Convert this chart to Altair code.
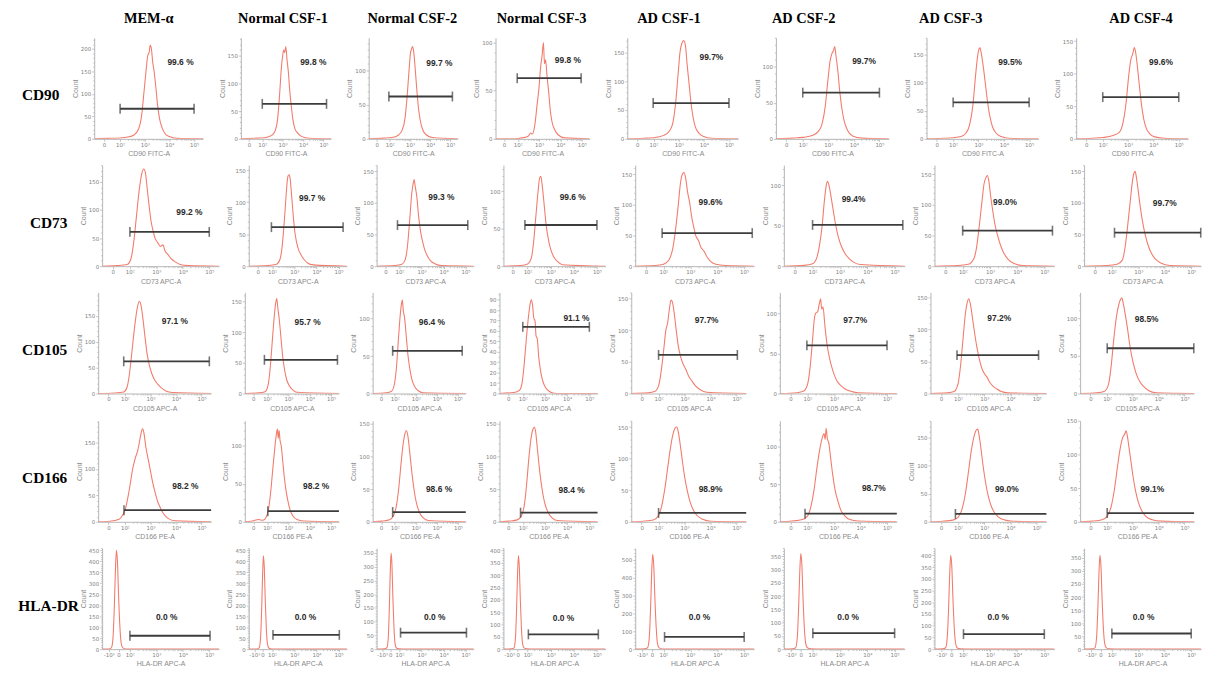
import math
import altair as alt
import pandas as pd

GROUPS = ["MEM-α", "Normal CSF-1", "Normal CSF-2", "Normal CSF-3",
          "AD CSF-1", "AD CSF-2", "AD CSF-3", "AD CSF-4"]
MARKERS = ["CD90", "CD73", "CD105", "CD166", "HLA-DR"]
X_TITLES = ["CD90 FITC-A", "CD73 APC-A", "CD105 APC-A", "CD166 PE-A", "HLA-DR APC-A"]

PCT_TEXT = [
    ["99.6 %", "99.8 %", "99.7 %", "99.8 %", "99.7%", "99.7%", "99.5%", "99.6%"],
    ["99.2 %", "99.7 %", "99.3 %", "99.6 %", "99.6%", "99.4%", "99.0%", "99.7%"],
    ["97.1 %", "95.7 %", "96.4 %", "91.1 %", "97.7%", "97.7%", "97.2%", "98.5%"],
    ["98.2 %", "98.2 %", "98.6 %", "98.4 %", "98.9%", "98.7%", "99.0%", "99.1%"],
    ["0.0 %", "0.0 %", "0.0 %", "0.0 %", "0.0 %", "0.0 %", "0.0 %", "0.0 %"],
]
PCT_X = [
    [4.45, 4.5, 4.45, 4.35, 4.3, 4.4, 4.25, 4.3],
    [4.25, 3.8, 3.9, 3.95, 3.75, 3.5, 3.55, 4.0],
    [3.95, 3.9, 3.76, 4.42, 3.85, 3.8, 3.57, 3.53],
    [4.36, 4.3, 4.1, 4.2, 4.0, 4.5, 3.86, 3.75],
    [3.39, 3.5, 3.6, 3.55, 3.34, 3.3, 3.3, 3.2],
]
PCT_Y = [
    [172, 139, 111, 82, 142, 108, 137, 118],
    [96, 107, 109, 92, 104, 83, 104, 100],
    [139, 117, 96, 72, 116, 92, 118, 99],
    [68, 47, 51, 49, 52, 45, 58, 48],
    [144, 147, 116, 127, 180, 121, 139, 124],
]
GATE_X1 = [
    [2.0, 2.0, 1.95, 1.97, 1.98, 2.0, 2.0, 2.0],
    [2.0, 1.97, 1.9, 1.88, 1.95, 2.0, 1.99, 2.1],
    [1.95, 1.87, 1.9, 2.0, 2.0, 1.97, 1.96, 2.0],
    [1.96, 2.03, 1.9, 1.9, 2.0, 1.9, 1.9, 2.0],
    [2.0, 2.04, 2.04, 2.03, 2.04, 2.01, 2.02, 2.0],
]
GATE_X2 = [
    [5.0, 5.15, 5.1, 4.97, 5.0, 5.0, 5.0, 5.0],
    [5.0, 5.2, 5.1, 5.0, 5.3, 5.3, 5.3, 5.36],
    [5.3, 5.3, 5.2, 5.0, 5.03, 5.0, 5.07, 5.36],
    [5.37, 5.37, 5.37, 5.37, 5.37, 5.37, 5.37, 5.37],
    [5.03, 5.03, 5.04, 5.06, 5.0, 5.0, 5.0, 5.0],
]
GATE_Y = [
    [67, 63, 62, 63, 62, 64, 65, 64],
    [61, 61, 65, 55, 54, 51, 58, 53],
    [62, 55, 57, 64, 61, 60, 60, 60],
    [22, 14, 15, 14, 14, 11, 14, 13],
    [61, 65, 60, 60, 68, 60, 64, 60],
]
Y_MAX = [
    [225, 182, 148, 105, 175, 140, 180, 155],
    [180, 158, 160, 135, 165, 125, 165, 160],
    [195, 165, 135, 97, 160, 126, 158, 134],
    [191, 133, 155, 155, 160, 135, 180, 150],
    [460, 460, 368, 410, 565, 381, 431, 388],
]
Y_LABEL_STEP = [
    [50] * 8, [50] * 8, [50, 50, 50, 10, 50, 50, 50, 50], [50] * 8,
    [50, 50, 50, 50, 100, 50, 50, 50],
]
Y_MINOR_STEP = [
    [10] * 8, [10] * 8, [10, 10, 10, 5, 10, 10, 10, 10], [10] * 8,
    [10, 10, 10, 10, 20, 10, 10, 10],
]

X_DOMAIN = [0.95, 5.37]
X_TICKS_POS_STD = [1.35, 2, 3, 4, 5]
X_TICKS_LAB_STD = ["0", "10²", "10³", "10⁴", "10⁵"]
X_TICKS_POS_NEG = [1.2, 1.57, 2, 3, 4, 5]
X_TICKS_LAB_NEG = ["-10³", "0", "10²", "10³", "10⁴", "10⁵"]

TITLE_DX = [0, -3, -1, -1, -14, -29, -32, 9]
ROW_SPACING = [38, 30, 34, 34, 30]
LABEL_WIDTHS = [32, 48, 40, 40, 48]
ROW_WIDTHS = [
    [110, 91, 90, 95, 112, 114, 113, 113],
    [118, 99, 98, 103, 120, 122, 121, 118],
    [114, 95, 94, 99, 116, 118, 117, 115],
    [114, 95, 94, 99, 116, 118, 117, 115],
    [118, 99, 98, 103, 120, 122, 121, 118],
]
PANEL_HEIGHT = 102

CD90_CURVES = [
    [(0.95, 0), (1.5, 1), (2.0, 2), (2.3, 4), (2.55, 8), (2.75, 22), (2.88, 55), (2.97, 105), (3.05, 150),
     (3.12, 185), (3.18, 193), (3.22, 208), (3.27, 200), (3.32, 172), (3.38, 150), (3.45, 115), (3.52, 75),
     (3.6, 45), (3.7, 25), (3.82, 12), (4.0, 5), (4.3, 1), (5.37, 0)],
    [(0.95, 0), (1.6, 1), (2.1, 2), (2.4, 5), (2.6, 12), (2.75, 35), (2.85, 80), (2.93, 125), (3.0, 150),
     (3.05, 160), (3.1, 155), (3.15, 166), (3.22, 140), (3.28, 120), (3.35, 85), (3.42, 60), (3.5, 35),
     (3.6, 18), (3.75, 10), (3.95, 4), (4.3, 1), (5.37, 0)],
    [(0.95, 0), (1.7, 1), (2.1, 2), (2.4, 5), (2.6, 12), (2.75, 30), (2.85, 60), (2.95, 100), (3.02, 125),
     (3.08, 132), (3.12, 135), (3.18, 128), (3.25, 105), (3.32, 78), (3.4, 50), (3.5, 28), (3.62, 14),
     (3.8, 6), (4.1, 2), (5.37, 0)],
    [(0.95, 0), (1.8, 0), (2.2, 1), (2.5, 3), (2.6, 6), (2.68, 5), (2.8, 15), (2.9, 35), (3.0, 55),
     (3.07, 75), (3.13, 85), (3.2, 100), (3.25, 78), (3.3, 82), (3.37, 65), (3.45, 48), (3.52, 30),
     (3.6, 18), (3.72, 10), (3.9, 4), (4.2, 1), (5.37, 0)],
    [(0.95, 0), (1.6, 1), (2.0, 2), (2.4, 6), (2.6, 12), (2.75, 25), (2.87, 60), (2.97, 110), (3.05, 150),
     (3.12, 165), (3.2, 170), (3.27, 160), (3.33, 130), (3.4, 100), (3.48, 65), (3.56, 40), (3.65, 22),
     (3.8, 10), (4.0, 4), (4.3, 1), (5.37, 0)],
    [(0.95, 0), (1.6, 1), (2.0, 2), (2.4, 5), (2.6, 10), (2.75, 20), (2.88, 45), (2.98, 80), (3.07, 108),
     (3.14, 118), (3.2, 122), (3.25, 128), (3.3, 115), (3.37, 95), (3.45, 65), (3.53, 42), (3.62, 25),
     (3.75, 12), (3.95, 4), (4.3, 1), (5.37, 0)],
    [(0.95, 0), (1.6, 1), (2.0, 2), (2.3, 4), (2.5, 10), (2.65, 25), (2.78, 60), (2.88, 110), (2.96, 145),
     (3.02, 160), (3.06, 162), (3.12, 150), (3.2, 125), (3.28, 95), (3.36, 65), (3.45, 40), (3.55, 22),
     (3.7, 10), (3.9, 4), (4.2, 1), (5.37, 0)],
    [(0.95, 0), (1.6, 1), (2.0, 2), (2.4, 5), (2.65, 10), (2.8, 25), (2.92, 55), (3.02, 95), (3.1, 120),
     (3.18, 130), (3.25, 140), (3.3, 132), (3.37, 110), (3.45, 80), (3.53, 52), (3.62, 30), (3.72, 16),
     (3.85, 8), (4.05, 3), (4.4, 1), (5.37, 0)],
]

CD73_CURVES = [
    [(0.95, 0), (1.5, 1), (1.9, 3), (2.05, 15), (2.15, 45), (2.25, 90), (2.35, 135), (2.45, 165), (2.52, 173),
     (2.58, 168), (2.65, 140), (2.72, 110), (2.8, 80), (2.88, 62), (2.95, 50), (3.05, 42), (3.15, 35),
     (3.25, 38), (3.32, 28), (3.45, 20), (3.55, 14), (3.7, 8), (3.9, 3), (4.2, 1), (5.37, 0)],
    [(0.95, 0), (1.8, 1), (2.2, 3), (2.35, 10), (2.45, 30), (2.55, 70), (2.63, 110), (2.7, 138), (2.75, 143),
     (2.8, 140), (2.87, 115), (2.95, 80), (3.02, 55), (3.1, 38), (3.2, 25), (3.3, 18), (3.45, 10),
     (3.6, 5), (3.85, 2), (5.37, 0)],
    [(0.95, 0), (1.8, 1), (2.1, 3), (2.25, 10), (2.35, 30), (2.45, 70), (2.55, 115), (2.62, 132), (2.66, 137),
     (2.7, 128), (2.78, 110), (2.86, 80), (2.95, 55), (3.05, 38), (3.15, 25), (3.28, 15), (3.42, 8),
     (3.6, 4), (3.9, 1), (5.37, 0)],
    [(0.95, 0), (1.7, 1), (2.0, 3), (2.15, 10), (2.25, 30), (2.35, 65), (2.45, 100), (2.52, 118), (2.57, 120),
     (2.63, 108), (2.72, 80), (2.8, 55), (2.9, 35), (3.0, 22), (3.12, 13), (3.3, 6), (3.5, 2), (5.37, 0)],
    [(0.95, 0), (1.7, 1), (2.0, 3), (2.2, 10), (2.35, 30), (2.45, 60), (2.55, 100), (2.63, 135), (2.7, 150),
     (2.76, 153), (2.82, 145), (2.9, 120), (2.97, 105), (3.05, 80), (3.12, 65), (3.2, 50), (3.3, 42),
     (3.4, 30), (3.5, 25), (3.62, 15), (3.75, 8), (3.95, 3), (4.3, 1), (5.37, 0)],
    [(0.95, 0), (1.7, 1), (2.0, 3), (2.15, 10), (2.25, 25), (2.35, 50), (2.43, 80), (2.5, 100), (2.55, 105),
     (2.6, 100), (2.68, 85), (2.76, 68), (2.85, 50), (2.95, 35), (3.05, 25), (3.18, 16), (3.32, 10),
     (3.5, 5), (3.75, 2), (5.37, 0)],
    [(0.95, 0), (1.8, 1), (2.2, 3), (2.4, 12), (2.5, 30), (2.6, 65), (2.7, 105), (2.78, 135), (2.85, 145),
     (2.9, 148), (2.95, 140), (3.02, 115), (3.1, 90), (3.18, 68), (3.28, 50), (3.38, 35), (3.5, 22),
     (3.65, 12), (3.85, 5), (4.2, 1), (5.37, 0)],
    [(0.95, 0), (1.8, 1), (2.2, 3), (2.4, 10), (2.5, 30), (2.6, 65), (2.7, 105), (2.78, 135), (2.84, 148),
     (2.88, 150), (2.93, 140), (3.0, 118), (3.08, 92), (3.17, 68), (3.27, 48), (3.38, 32), (3.5, 20),
     (3.65, 11), (3.85, 5), (4.2, 1), (5.37, 0)],
]

CD105_CURVES = [
    [(0.95, 0), (1.6, 1), (1.95, 3), (2.08, 12), (2.18, 40), (2.28, 85), (2.38, 130), (2.48, 165), (2.56, 178),
     (2.62, 172), (2.7, 145), (2.78, 110), (2.86, 78), (2.95, 55), (3.05, 38), (3.15, 27), (3.28, 18),
     (3.42, 11), (3.6, 5), (3.85, 2), (5.37, 0)],
    [(0.95, 0), (1.6, 1), (1.9, 3), (2.05, 15), (2.15, 45), (2.25, 90), (2.33, 125), (2.4, 148), (2.45, 155),
     (2.5, 140), (2.57, 120), (2.65, 90), (2.73, 60), (2.82, 38), (2.92, 22), (3.05, 12), (3.2, 6),
     (3.4, 2), (5.37, 0)],
    [(0.95, 0), (1.6, 1), (1.85, 3), (1.98, 12), (2.08, 35), (2.18, 75), (2.26, 105), (2.32, 120), (2.36, 125),
     (2.4, 112), (2.47, 100), (2.55, 75), (2.63, 50), (2.72, 32), (2.82, 18), (2.95, 9), (3.1, 4),
     (3.35, 1), (5.37, 0)],
    [(0.95, 0), (1.6, 1), (1.85, 3), (1.95, 8), (2.05, 25), (2.12, 42), (2.2, 62), (2.28, 78), (2.35, 88),
     (2.39, 90), (2.44, 85), (2.5, 72), (2.55, 70), (2.6, 55), (2.65, 53), (2.72, 35), (2.8, 22),
     (2.9, 12), (3.02, 6), (3.2, 2), (3.5, 0), (5.37, 0)],
    [(0.95, 0), (1.6, 1), (1.85, 3), (2.0, 12), (2.1, 35), (2.2, 70), (2.28, 100), (2.35, 112), (2.42, 135),
     (2.48, 148), (2.53, 145), (2.6, 128), (2.68, 100), (2.76, 75), (2.85, 58), (2.95, 46), (3.05, 38),
     (3.15, 28), (3.28, 20), (3.42, 12), (3.6, 6), (3.85, 2), (5.37, 0)],
    [(0.95, 0), (1.6, 1), (1.85, 3), (2.0, 12), (2.1, 35), (2.18, 65), (2.25, 92), (2.3, 100), (2.38, 102),
     (2.44, 112), (2.49, 118), (2.53, 105), (2.58, 108), (2.65, 85), (2.73, 62), (2.82, 45), (2.92, 32),
     (3.02, 22), (3.12, 15), (3.25, 10), (3.4, 6), (3.6, 3), (3.9, 1), (5.37, 0)],
    [(0.95, 0), (1.6, 1), (1.85, 3), (2.0, 15), (2.1, 45), (2.2, 90), (2.28, 125), (2.35, 142), (2.41, 148),
     (2.47, 140), (2.55, 118), (2.63, 95), (2.72, 72), (2.82, 52), (2.92, 38), (3.02, 30), (3.1, 26),
     (3.2, 18), (3.32, 12), (3.48, 7), (3.65, 3), (3.9, 1), (5.37, 0)],
    [(0.95, 0), (1.6, 1), (1.9, 3), (2.05, 12), (2.15, 35), (2.25, 70), (2.35, 100), (2.45, 118), (2.52, 125),
     (2.57, 127), (2.62, 120), (2.7, 105), (2.78, 88), (2.86, 68), (2.95, 50), (3.05, 35), (3.15, 24),
     (3.28, 15), (3.42, 9), (3.6, 4), (3.9, 1), (5.37, 0)],
]

CD166_CURVES = [
    [(0.95, 0), (1.4, 1), (1.77, 5), (1.9, 12), (2.02, 25), (2.12, 48), (2.2, 70), (2.3, 100), (2.4, 120),
     (2.5, 135), (2.58, 155), (2.65, 172), (2.69, 176), (2.74, 168), (2.82, 140), (2.9, 120), (2.98, 100),
     (3.08, 75), (3.18, 55), (3.28, 38), (3.37, 28), (3.47, 18), (3.56, 12), (3.7, 6), (3.95, 2), (5.37, 0)],
    [(0.95, 0), (1.3, 1), (1.6, 3), (1.8, 2), (1.95, 6), (2.05, 15), (2.15, 35), (2.25, 65), (2.35, 95),
     (2.43, 115), (2.48, 122), (2.52, 110), (2.56, 120), (2.6, 108), (2.66, 100), (2.73, 80), (2.8, 60),
     (2.88, 42), (2.97, 28), (3.07, 16), (3.2, 8), (3.4, 3), (3.7, 1), (5.37, 0)],
    [(0.95, 0), (1.4, 1), (1.75, 3), (1.95, 10), (2.08, 25), (2.2, 55), (2.3, 90), (2.4, 120), (2.48, 135),
     (2.55, 140), (2.62, 132), (2.7, 110), (2.78, 85), (2.87, 60), (2.96, 40), (3.06, 25), (3.18, 14),
     (3.35, 6), (3.6, 2), (5.37, 0)],
    [(0.95, 0), (1.4, 1), (1.75, 3), (1.95, 10), (2.08, 28), (2.18, 60), (2.28, 100), (2.38, 130), (2.46, 142),
     (2.52, 145), (2.58, 138), (2.65, 115), (2.73, 88), (2.82, 62), (2.92, 40), (3.02, 25), (3.15, 14),
     (3.32, 6), (3.55, 2), (5.37, 0)],
    [(0.95, 0), (1.4, 1), (1.8, 3), (2.0, 10), (2.12, 25), (2.25, 55), (2.35, 85), (2.45, 115), (2.55, 138),
     (2.63, 148), (2.7, 150), (2.76, 142), (2.84, 120), (2.92, 95), (3.0, 72), (3.1, 50), (3.2, 33),
     (3.32, 20), (3.48, 10), (3.7, 4), (4.0, 1), (5.37, 0)],
    [(0.95, 0), (1.4, 1), (1.8, 3), (2.0, 8), (2.12, 20), (2.25, 45), (2.35, 72), (2.45, 95), (2.55, 112),
     (2.62, 118), (2.66, 110), (2.7, 125), (2.74, 112), (2.8, 105), (2.87, 85), (2.95, 62), (3.04, 42),
     (3.14, 28), (3.25, 16), (3.4, 8), (3.6, 3), (3.9, 1), (5.37, 0)],
    [(0.95, 0), (1.4, 1), (1.8, 3), (2.0, 8), (2.15, 22), (2.28, 50), (2.4, 90), (2.5, 125), (2.6, 150),
     (2.68, 162), (2.75, 165), (2.8, 155), (2.88, 128), (2.96, 98), (3.05, 70), (3.15, 46), (3.25, 30),
     (3.38, 17), (3.55, 8), (3.8, 3), (4.1, 1), (5.37, 0)],
    [(0.95, 0), (1.4, 1), (1.8, 3), (2.0, 8), (2.15, 22), (2.28, 48), (2.4, 82), (2.5, 108), (2.6, 125),
     (2.68, 130), (2.73, 135), (2.78, 128), (2.84, 112), (2.92, 90), (3.0, 68), (3.1, 46), (3.2, 30),
     (3.32, 18), (3.5, 8), (3.75, 3), (4.1, 1), (5.37, 0)],
]

HLADR_CURVES = [
    [(0.95, 0), (1.2, 1), (1.3, 6), (1.36, 50), (1.41, 190), (1.45, 350), (1.49, 450), (1.53, 395), (1.57, 250),
     (1.62, 105), (1.67, 28), (1.73, 6), (1.85, 1), (2.2, 0), (5.37, 0)],
    [(0.95, 0), (1.3, 1), (1.42, 6), (1.48, 50), (1.53, 180), (1.57, 330), (1.61, 425), (1.65, 370), (1.69, 230),
     (1.74, 95), (1.79, 25), (1.85, 5), (1.97, 1), (2.3, 0), (5.37, 0)],
    [(0.95, 0), (1.3, 1), (1.42, 5), (1.48, 40), (1.53, 150), (1.57, 275), (1.61, 350), (1.65, 305), (1.69, 190),
     (1.74, 80), (1.79, 20), (1.85, 4), (1.97, 1), (2.3, 0), (5.37, 0)],
    [(0.95, 0), (1.3, 1), (1.41, 5), (1.47, 45), (1.52, 165), (1.56, 300), (1.6, 380), (1.64, 330), (1.68, 205),
     (1.73, 85), (1.78, 22), (1.84, 5), (1.96, 1), (2.3, 0), (5.37, 0)],
    [(0.95, 0), (1.3, 2), (1.41, 8), (1.47, 60), (1.52, 225), (1.56, 420), (1.6, 530), (1.64, 465), (1.68, 290),
     (1.73, 120), (1.78, 30), (1.84, 7), (1.96, 1), (2.3, 0), (5.37, 0)],
    [(0.95, 0), (1.27, 1), (1.38, 5), (1.44, 42), (1.49, 155), (1.53, 285), (1.57, 360), (1.61, 315), (1.65, 195),
     (1.7, 80), (1.75, 21), (1.81, 5), (1.93, 1), (2.3, 0), (5.37, 0)],
    [(0.95, 0), (1.25, 1), (1.36, 6), (1.42, 48), (1.47, 170), (1.51, 315), (1.55, 400), (1.59, 350), (1.63, 220),
     (1.68, 90), (1.73, 24), (1.79, 5), (1.91, 1), (2.3, 0), (5.37, 0)],
    [(0.95, 0), (1.25, 1), (1.36, 5), (1.42, 42), (1.47, 155), (1.51, 285), (1.55, 360), (1.59, 315), (1.63, 195),
     (1.68, 80), (1.73, 21), (1.79, 5), (1.91, 1), (2.3, 0), (5.37, 0)],
]

CURVES = [CD90_CURVES, CD73_CURVES, CD105_CURVES, CD166_CURVES, HLADR_CURVES]

LINE_COLOR = "#f27c6c"
GATE_COLOR = "#3c3c3c"
AXIS_GRAY = "#7f7f7f"
SERIF = "Liberation Serif"
LABEL_SIZE = 5.5


def x_axis(r):
    if r == 4:
        pos, labs = X_TICKS_POS_NEG, X_TICKS_LAB_NEG
    else:
        pos, labs = X_TICKS_POS_STD, X_TICKS_LAB_STD
    minors = [round(d + math.log10(k), 4) for d in (2, 3, 4) for k in range(2, 10)]
    expr = "".join(f"datum.value === {p} ? '{l}' : " for p, l in zip(pos, labs)) + "''"
    major = "datum.value % 1 === 0 || datum.value < 2"
    return alt.Axis(values=list(pos) + minors, labelExpr=expr, title=X_TITLES[r], grid=False,
                    labelOverlap=False, labelFlush=False, labelBound=False,
                    labelFontSize={"condition": {"test": major, "value": LABEL_SIZE}, "value": 0},
                    tickSize={"condition": {"test": major, "value": 2.5}, "value": 1.5})


def y_axis(r, c):
    step = Y_LABEL_STEP[r][c]
    minor = Y_MINOR_STEP[r][c]
    vals = list(range(0, Y_MAX[r][c] + 1, minor))
    major = f"datum.value % {step} === 0"
    return alt.Axis(values=vals, labelExpr=f"{major} ? datum.label : ''",
                    title="Count", grid=False, labelOverlap=False, labelBound=False, labelFlush=False,
                    labelFontSize={"condition": {"test": major, "value": LABEL_SIZE}, "value": 0},
                    tickSize={"condition": {"test": major, "value": 2.5}, "value": 1.5})


def panel(r, c):
    xs = alt.Scale(domain=X_DOMAIN, nice=False, zero=False)
    ys = alt.Scale(domain=[0, Y_MAX[r][c]], nice=False, zero=True)
    xa, ya = x_axis(r), y_axis(r, c)

    def enc():
        return dict(x=alt.X("u:Q", scale=xs, axis=xa), y=alt.Y("count:Q", scale=ys, axis=ya))

    df = pd.DataFrame(CURVES[r][c], columns=["u", "count"])
    line = alt.Chart(df).mark_line(color=LINE_COLOR, strokeWidth=1.1, interpolate="monotone",
                                   clip=True).encode(**enc())
    gdf = pd.DataFrame({"u": [GATE_X1[r][c]], "u2": [GATE_X2[r][c]], "count": [GATE_Y[r][c]]})
    gate = alt.Chart(gdf).mark_rule(color=GATE_COLOR, strokeWidth=1.8).encode(x2="u2:Q", **enc())
    cap_u = [GATE_X1[r][c]] + ([GATE_X2[r][c]] if GATE_X2[r][c] < X_DOMAIN[1] else [])
    cdf = pd.DataFrame({"u": cap_u, "count": [GATE_Y[r][c]] * len(cap_u)})
    caps = alt.Chart(cdf).mark_tick(orient="vertical", color=GATE_COLOR, thickness=1.6, size=10).encode(**enc())
    tdf = pd.DataFrame({"u": [PCT_X[r][c]], "count": [PCT_Y[r][c]], "t": [PCT_TEXT[r][c]]})
    txt = alt.Chart(tdf).mark_text(font="Liberation Sans", fontSize=8.5, fontWeight="bold", color="#2a2a2a",
                                   align="center", baseline="middle").encode(text="t:N", **enc())
    props = dict(width=ROW_WIDTHS[r][c], height=PANEL_HEIGHT)
    if r == 0:
        props["title"] = alt.TitleParams(GROUPS[c], font=SERIF, fontSize=14.5, fontWeight="bold",
                                         color="#000000", offset=11, frame="group", anchor="middle",
                                         dx=TITLE_DX[c])
    return alt.layer(line, gate, caps, txt).properties(**props)


def row_label(r):
    df = pd.DataFrame({"x": [0.5], "y": [0.43], "t": [MARKERS[r]]})
    unit = alt.Scale(domain=[0, 1])
    return alt.Chart(df).mark_text(font=SERIF, fontSize=15.5, fontWeight="bold", color="#000000",
                                   align="center", baseline="middle").encode(
        x=alt.X("x:Q", scale=unit, axis=None),
        y=alt.Y("y:Q", scale=unit, axis=None),
        text="t:N",
    ).properties(width=LABEL_WIDTHS[r], height=PANEL_HEIGHT)


rows = []
for r in range(5):
    row = alt.hconcat(row_label(r), *[panel(r, c) for c in range(8)], spacing=ROW_SPACING[r], bounds="flush")
    rows.append(row)

chart = alt.vconcat(*rows, spacing=7.5).properties(
    padding={"left": 10, "top": 0, "right": 0, "bottom": 0}
).configure_view(stroke=None).configure_axis(
    labelFont="DejaVu Sans", labelColor=AXIS_GRAY, labelPadding=1,
    titleFont="Liberation Sans", titleFontSize=7, titleFontWeight="normal", titleColor="#8a8a8a",
    titlePadding=2, domainColor="#b5b5b5", tickColor="#b5b5b5", domainWidth=1, tickWidth=0.8,
    labelOverlap=False,
)

chart.save("out.html", embed_options={"renderer": "svg", "actions": False})
